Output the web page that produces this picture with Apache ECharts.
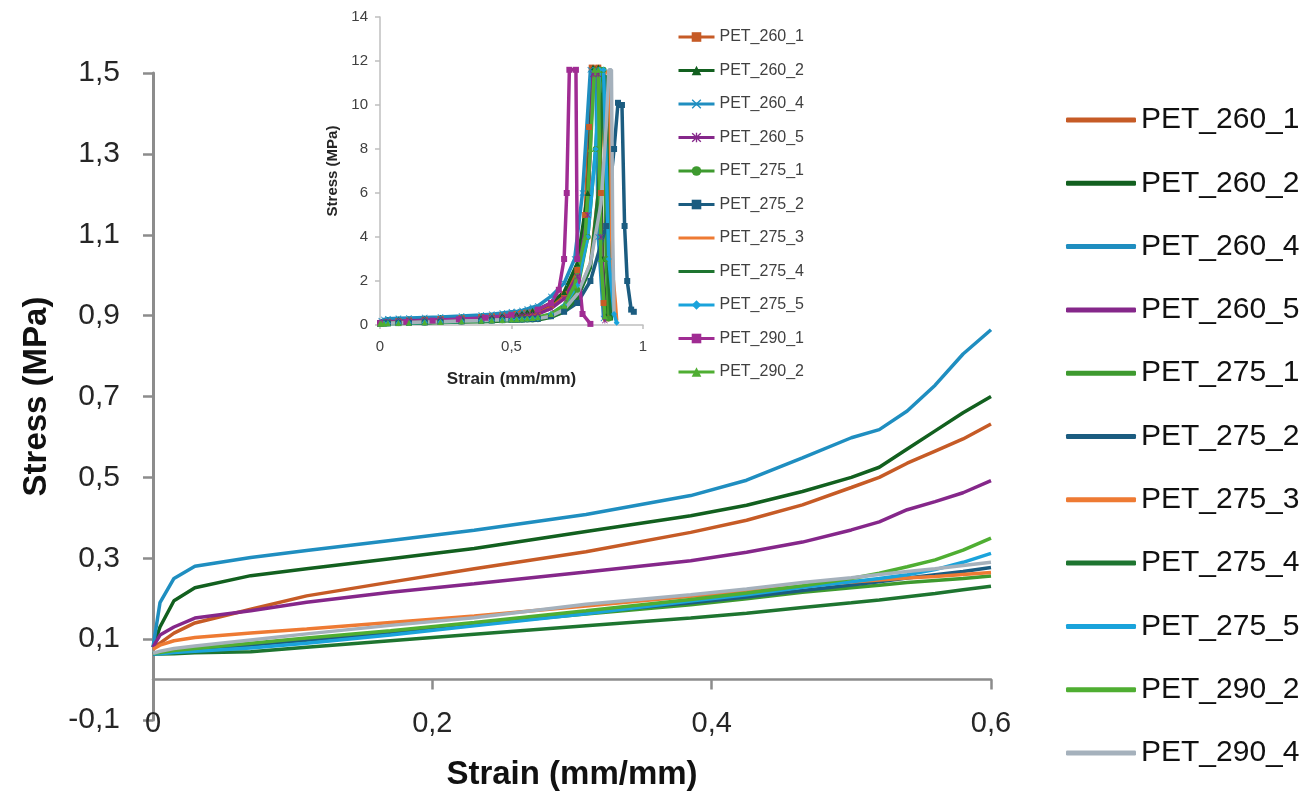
<!DOCTYPE html>
<html>
<head>
<meta charset="utf-8">
<script src="https://cdn.jsdelivr.net/npm/echarts@6/dist/echarts.min.js"></script>
<style>html,body{margin:0;padding:0;background:#fff}#c{width:1314px;height:792px}</style>
</head>
<body>
<div id="c"></div>
<script>
// ---------- data (main chart, strain 0..0.6) ----------
const mainStrain = [0, 0.005, 0.015, 0.03, 0.07, 0.11, 0.17, 0.23, 0.31, 0.385, 0.425, 0.465, 0.5, 0.52, 0.54, 0.56, 0.58, 0.6];
const names = ['PET_260_1','PET_260_2','PET_260_4','PET_260_5','PET_275_1','PET_275_2','PET_275_3','PET_275_4','PET_275_5','PET_290_2','PET_290_4'];
const colors = ['#C65B26','#12601F','#1F8EC0','#85278A','#3E9A2F','#1B5C80','#EE7A33','#1E7530','#1AA3DB','#4FAE32','#A5B1BC'];

const PET_260_1 = [0.08, 0.09, 0.115, 0.14, 0.174, 0.207, 0.241, 0.274, 0.316, 0.364, 0.394, 0.432, 0.475, 0.5, 0.535, 0.565, 0.595, 0.632];
const PET_260_2 = [0.08, 0.13, 0.195, 0.227, 0.257, 0.274, 0.299, 0.324, 0.366, 0.405, 0.431, 0.465, 0.5, 0.525, 0.57, 0.615, 0.66, 0.7];
const PET_260_4 = [0.08, 0.19, 0.25, 0.28, 0.302, 0.319, 0.344, 0.369, 0.408, 0.455, 0.493, 0.548, 0.598, 0.618, 0.664, 0.728, 0.805, 0.865];
const PET_260_5 = [0.08, 0.11, 0.13, 0.152, 0.17, 0.191, 0.216, 0.237, 0.266, 0.294, 0.315, 0.34, 0.37, 0.39, 0.42, 0.44, 0.462, 0.492];
const PET_275_1 = [0.063, 0.066, 0.07, 0.075, 0.086, 0.098, 0.117, 0.137, 0.162, 0.185, 0.2, 0.216, 0.227, 0.233, 0.24, 0.245, 0.25, 0.256];
const PET_275_2 = [0.063, 0.066, 0.07, 0.075, 0.086, 0.098, 0.117, 0.137, 0.166, 0.19, 0.204, 0.22, 0.234, 0.242, 0.251, 0.259, 0.267, 0.277];
const PET_275_3 = [0.075, 0.085, 0.096, 0.104, 0.115, 0.125, 0.141, 0.157, 0.182, 0.206, 0.218, 0.231, 0.241, 0.246, 0.251, 0.255, 0.26, 0.265];
const PET_275_4 = [0.063, 0.063, 0.064, 0.066, 0.069, 0.08, 0.096, 0.112, 0.133, 0.152, 0.164, 0.178, 0.19, 0.197, 0.205, 0.213, 0.222, 0.231];
const PET_275_5 = [0.063, 0.064, 0.067, 0.07, 0.078, 0.09, 0.11, 0.133, 0.163, 0.194, 0.21, 0.228, 0.242, 0.25, 0.259, 0.272, 0.29, 0.312];
const PET_290_2 = [0.065, 0.067, 0.072, 0.077, 0.09, 0.103, 0.121, 0.141, 0.17, 0.198, 0.214, 0.232, 0.25, 0.263, 0.279, 0.296, 0.32, 0.35];
const PET_290_4 = [0.065, 0.07, 0.077, 0.083, 0.098, 0.113, 0.134, 0.153, 0.186, 0.21, 0.224, 0.24, 0.252, 0.26, 0.267, 0.274, 0.282, 0.29];
const mainStress = [PET_260_1, PET_260_2, PET_260_4, PET_260_5, PET_275_1, PET_275_2, PET_275_3, PET_275_4, PET_275_5, PET_290_2, PET_290_4];

// ---------- inset: continuation beyond strain 0.6 [strain, stress] ----------
const ext_260_1 = [[0.65,0.9],[0.7,1.4],[0.75,2.5],[0.78,5],[0.795,9],[0.805,11.7],[0.83,11.7],[0.84,6],[0.85,1],[0.86,0.3]];
const ext_260_2 = [[0.65,1.0],[0.7,1.5],[0.75,2.8],[0.79,6],[0.81,11.7],[0.83,11.7],[0.845,3],[0.86,0.4]];
const ext_260_4 = [[0.65,1.3],[0.7,1.9],[0.74,3],[0.77,6],[0.8,11.6],[0.82,11.6],[0.83,4],[0.85,0.3]];
const ext_260_5 = [[0.65,0.75],[0.7,1.2],[0.75,2.2],[0.79,5],[0.81,11.4],[0.83,11.4],[0.84,4],[0.855,0.2]];
const ext_275_1 = [[0.65,0.4],[0.7,0.8],[0.75,1.6],[0.79,4],[0.82,8],[0.84,11.6],[0.85,11.6],[0.86,3],[0.87,0.3]];
const ext_275_2 = [[0.65,0.4],[0.7,0.6],[0.75,1],[0.8,2],[0.86,4.5],[0.89,8],[0.905,10.1],[0.92,10],[0.93,4.5],[0.94,2],[0.955,0.7],[0.965,0.6]];
const ext_275_3 = [[0.65,0.4],[0.7,0.7],[0.75,1.3],[0.8,2.8],[0.83,6],[0.855,11.5],[0.87,11.5],[0.88,3],[0.895,1],[0.9,0.2]];
const ext_275_4 = [[0.65,0.35],[0.7,0.6],[0.75,1.2],[0.8,2.6],[0.83,6],[0.85,11.3],[0.86,11.3],[0.87,2],[0.88,0.2]];
const ext_275_5 = [[0.65,0.5],[0.7,0.9],[0.75,1.8],[0.79,4],[0.82,8],[0.835,11.6],[0.85,11.6],[0.87,3],[0.89,0.5],[0.9,0.1]];
const ext_290_2 = [[0.65,0.5],[0.7,0.9],[0.74,1.8],[0.78,4],[0.8,8],[0.815,11.6],[0.83,11.6],[0.84,3],[0.855,0.4]];
const ext_290_4 = [[0.65,0.4],[0.7,0.7],[0.75,1.4],[0.8,2.8],[0.84,5.5],[0.86,9],[0.87,11.6],[0.88,11.6],[0.885,4],[0.89,0.5]];
const PET_290_1_full = [[0,0.08],[0.1,0.14],[0.2,0.2],[0.3,0.26],[0.4,0.33],[0.5,0.45],[0.6,0.7],[0.65,1.0],[0.68,1.6],[0.7,3],[0.71,6],[0.72,11.6],[0.745,11.6],[0.75,3],[0.77,0.5],[0.8,0.05]];
const extList = [ext_260_1, ext_260_2, ext_260_4, ext_260_5, ext_275_1, ext_275_2, ext_275_3, ext_275_4, ext_275_5, ext_290_2, ext_290_4];

const insetLegendNames = ['PET_260_1','PET_260_2','PET_260_4','PET_260_5','PET_275_1','PET_275_2','PET_275_3','PET_275_4','PET_275_5','PET_290_1','PET_290_2'];
const xTicksMain = ['0','0,2','0,4','0,6'];

// ---------- styling ----------
const FONT = "'Liberation Sans', Arial, sans-serif";
const comma = v => String(+v.toFixed(2)).replace('.', ',');
const P_X = 'path://M0,1L1,0L5,4L9,0L10,1L6,5L10,9L9,10L5,6L1,10L0,9L4,5Z';
const P_AST = 'path://M0,1L1,0L4.3,3.3L4.3,0L5.7,0L5.7,3.3L9,0L10,1L6.3,4.5L6.3,5.5L10,9L9,10L5.7,6.7L5.7,10L4.3,10L4.3,6.7L1,10L0,9L3.7,5.5L3.7,4.5Z';
const P_PLUS = 'path://M4.2,0L5.8,0L5.8,10L4.2,10Z';
const P_LINE = 'path://M0,0L0,0ZM0,4.4L36,4.4L36,7.6L0,7.6ZM36,12L36,12Z';
const insetSymbols = {
  PET_260_1:'rect', PET_260_2:'triangle', PET_260_4:P_X, PET_260_5:P_AST, PET_275_1:'circle',
  PET_275_2:P_PLUS, PET_275_3:'none', PET_275_4:'none', PET_275_5:'diamond', PET_290_1:'rect', PET_290_2:'triangle', PET_290_4:'none'
};
const insetColors = { PET_290_1: '#A02C93' };
names.forEach((n, i) => insetColors[n] = colors[i]);

const series = [];
// inset series (drawn first)
names.forEach((n, i) => {
  const d = mainStrain.map((x, k) => [x, mainStress[i][k]]).concat(extList[i]);
  series.push({
    name: 'inset:' + n, type: 'line', xAxisIndex: 1, yAxisIndex: 2, data: d,
    symbol: insetSymbols[n], symbolSize: 6, showSymbol: insetSymbols[n] !== 'none',
    lineStyle: { color: colors[i], width: 3.5 }, itemStyle: { color: colors[i] },
    silent: true, z: 2
  });
  if (n === 'PET_275_5') {
    series.push({
      name: 'inset:PET_290_1', type: 'line', xAxisIndex: 1, yAxisIndex: 2, data: PET_290_1_full,
      symbol: 'rect', symbolSize: 6, lineStyle: { color: '#A02C93', width: 3.5 }, itemStyle: { color: '#A02C93' },
      silent: true, z: 2
    });
  }
});
// main series
names.forEach((n, i) => {
  series.push({
    name: n, type: 'line', xAxisIndex: 0, yAxisIndex: 0,
    data: mainStrain.map((x, k) => [x, mainStress[i][k]]),
    symbol: 'none', lineStyle: { color: colors[i], width: 3.5 }, itemStyle: { color: colors[i] },
    silent: true, z: 3
  });
});

const insetLegendData = insetLegendNames.map(n => {
  const o = { name: 'inset:' + n };
  if (insetSymbols[n] === 'none') { o.icon = P_LINE; o.itemStyle = { color: insetColors[n] }; }
  return o;
});

const axisGray = '#8C8C8C';
const insetGray = '#BFBFBF';
const option = {
  animation: false,
  backgroundColor: '#fff',
  textStyle: { fontFamily: FONT },
  grid: [
    { left: 153, top: 73, width: 838, height: 647, containLabel: false, outerBoundsMode: 'none' },
    { left: 380, top: 17, width: 263, height: 308, containLabel: false, outerBoundsMode: 'none' }
  ],
  xAxis: [
    { gridIndex: 0, type: 'value', position: 'bottom', min: 0, max: 0.6, interval: 0.2,
      axisLine: { show: true, onZero: true, onZeroAxisIndex: 0, lineStyle: { color: axisGray, width: 2.5 } },
      axisTick: { show: true, inside: false, length: 10, lineStyle: { color: axisGray, width: 2.5 } },
      axisLabel: { fontSize: 29, color: '#262626', margin: -11, formatter: (v) => xTicksMain[Math.round(v / 0.2)] },
      splitLine: { show: false },
      name: 'Strain (mm/mm)', nameLocation: 'middle', nameGap: 38,
      nameTextStyle: { fontSize: 33, fontWeight: 'bold', color: '#111' } },
    { gridIndex: 1, type: 'value', position: 'bottom', min: 0, max: 1, interval: 0.5,
      axisLine: { show: true, onZero: false, lineStyle: { color: insetGray, width: 1.5 } },
      axisTick: { show: true, length: 4, lineStyle: { color: insetGray, width: 1.5 } },
      axisLabel: { fontSize: 15, color: '#404040', margin: 14, formatter: comma },
      splitLine: { show: false },
      name: 'Strain (mm/mm)', nameLocation: 'middle', nameGap: 46,
      nameTextStyle: { fontSize: 17, fontWeight: 'bold', color: '#262626' } }
  ],
  yAxis: [
    { gridIndex: 0, type: 'value', position: 'left', min: -0.1, max: 1.5,
      axisLine: { show: false }, axisTick: { show: false }, axisLabel: { show: false }, splitLine: { show: false } },
    { gridIndex: 0, type: 'value', position: 'left', min: 0, max: 1.6, interval: 0.2,
      axisLine: { show: true, lineStyle: { color: axisGray, width: 3 } },
      axisTick: { show: true, length: 10, lineStyle: { color: axisGray, width: 2.5 } },
      axisLabel: { fontSize: 30, color: '#262626', margin: 33, formatter: (v) => comma(v - 0.1) },
      splitLine: { show: false },
      name: 'Stress (MPa)', nameLocation: 'middle', nameGap: 100,
      nameTextStyle: { fontSize: 33, fontWeight: 'bold', color: '#111' } },
    { gridIndex: 1, type: 'value', position: 'left', min: 0, max: 14, interval: 2,
      axisLine: { show: true, lineStyle: { color: insetGray, width: 1.5 } },
      axisTick: { show: true, length: 5, lineStyle: { color: insetGray, width: 1.5 } },
      axisLabel: { fontSize: 15, color: '#404040', margin: 12 },
      splitLine: { show: false },
      name: 'Stress (MPa)', nameLocation: 'middle', nameGap: 40,
      nameTextStyle: { fontSize: 15, fontWeight: 'bold', color: '#262626' } }
  ],
  legend: [
    { data: names, icon: 'roundRect', orient: 'vertical', left: 1066, top: 105, padding: 0,
      itemWidth: 70, itemHeight: 5, itemGap: 33.3,
      selectedMode: false, textStyle: { fontSize: 30, lineHeight: 30, color: '#111' } },
    { data: insetLegendData, formatter: (n) => n.replace('inset:', ''),
      orient: 'vertical', left: 677, top: 29, padding: 0, itemWidth: 36, itemHeight: 12, itemGap: 17.5,
      lineStyle: { width: 3 },
      selectedMode: false, textStyle: { fontSize: 16, lineHeight: 16, color: '#404040' } }
  ],
  series: series
};
const chart = echarts.init(document.getElementById('c'), null, { renderer: 'canvas' });
chart.setOption(option);
</script>
</body>
</html>
